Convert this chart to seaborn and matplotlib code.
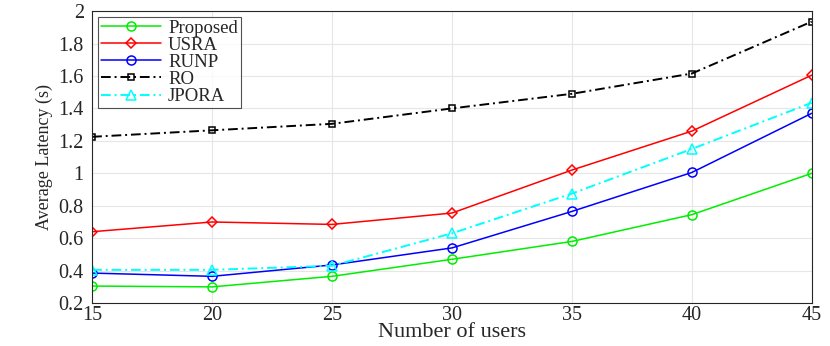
import pandas as pd
import seaborn as sns
import matplotlib.pyplot as plt

users = [15, 20, 25, 30, 35, 40, 45]
proposed = [0.305, 0.30, 0.365, 0.47, 0.58, 0.745, 1.0]
usra = [0.64, 0.70, 0.685, 0.755, 1.02, 1.26, 1.605]
runp = [0.385, 0.365, 0.435, 0.54, 0.765, 1.005, 1.37]
ro = [1.225, 1.265, 1.305, 1.40, 1.49, 1.615, 1.935]
jpora = [0.405, 0.405, 0.43, 0.63, 0.875, 1.15, 1.435]

names = ["Proposed", "USRA", "RUNP", "RO", "JPORA"]
series = [proposed, usra, runp, ro, jpora]
colors = ["#00ee00", "#ff0000", "#0000ff", "#000000", "#00ffff"]
markers = ["o", "D", "o", "s", "^"]
msizes = [6.5, 5.5, 6.5, 4.5, 7]
styles = ["-", "-", "-", (0, (5, 2, 1, 2)), (0, (5, 2, 1, 2))]

sns.set_theme(style="whitegrid")
plt.rcParams['font.family'] = ['Liberation Serif', 'DejaVu Serif']

fig = plt.figure(figsize=(8.3, 3.46), dpi=100)
ax = fig.add_axes([0.111, 0.124, 0.867, 0.844])

for name, vals, c, m, ms, ls in zip(names, series, colors, markers, msizes, styles):
    df = pd.DataFrame({"users": users, "latency": vals})
    sns.lineplot(data=df, x="users", y="latency", ax=ax, color=c, marker=m,
                 markersize=ms, markerfacecolor="none", markeredgecolor=c,
                 markeredgewidth=1.1, linewidth=1.1 if ls == "-" else 1.4,
                 linestyle=ls, label=name)

ax.set_xlim(15, 45)
ax.set_ylim(0.2, 2.0)
ax.set_xticks(users)
ax.set_yticks([0.2, 0.4, 0.6, 0.8, 1.0, 1.2, 1.4, 1.6, 1.8, 2.0])
ax.set_yticklabels(["0.2", "0.4", "0.6", "0.8", "1", "1.2", "1.4", "1.6", "1.8", "2"])
ax.tick_params(axis="both", labelsize=14.5, colors="#262626", direction="in", length=5, width=0.8)
ax.tick_params(axis="x", pad=2)
ax.tick_params(axis="y", pad=6)
ax.grid(True, color="#e6e6e6", linewidth=0.8)
for s in ax.spines.values():
    s.set_color("#262626")
    s.set_linewidth(0.8)

ax.set_xlabel("Number of users", fontsize=16, color="#262626", labelpad=-1)
ax.set_ylabel("Average Latency (s)", fontsize=13, color="#262626", labelpad=4)

leg = ax.legend(loc="upper left", fontsize=13.5, frameon=True, fancybox=False,
                edgecolor="#262626", handlelength=3.2, borderpad=0.15,
                labelspacing=0.0, handletextpad=0.4, borderaxespad=0.3)
leg.get_frame().set_linewidth(0.8)

fig.savefig("out.png", dpi=100)
